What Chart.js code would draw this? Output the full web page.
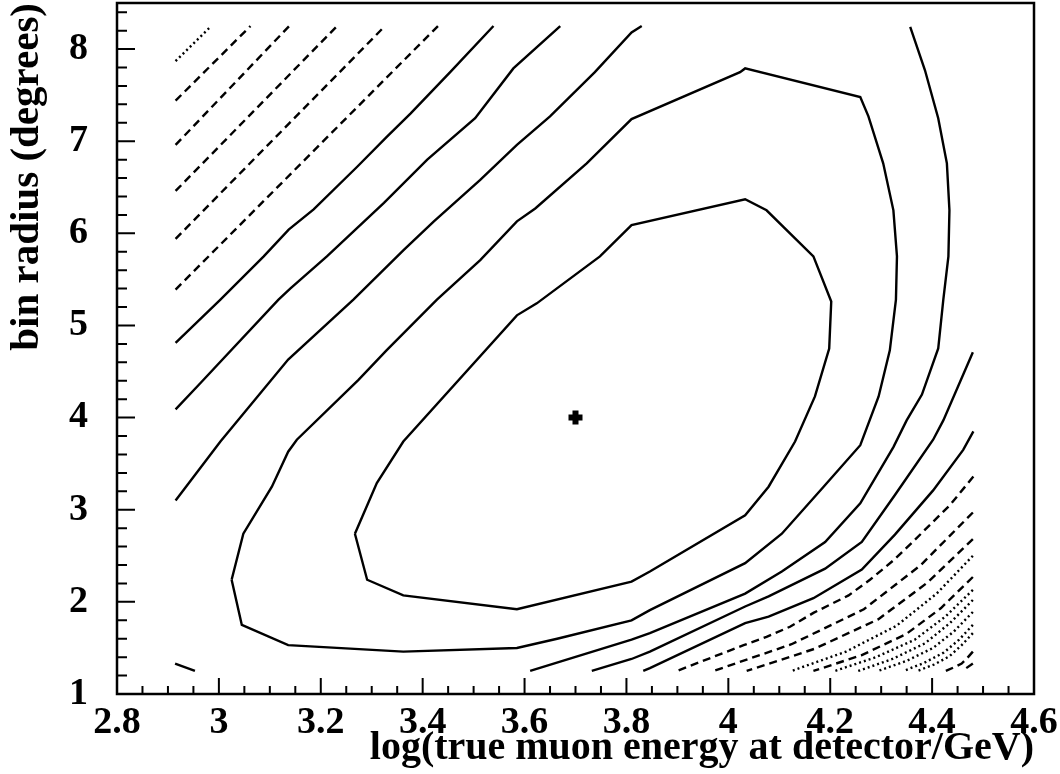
<!DOCTYPE html>
<html><head><meta charset="utf-8">
<script src="https://cdn.jsdelivr.net/npm/chart.js@4.4.1/dist/chart.umd.min.js"></script>
<style>html,body{margin:0;padding:0;background:#fff;}canvas{display:block;}</style>
</head><body>
<canvas id="c" width="1060" height="774"></canvas>
<script>
// ---- axis ticks ----
const xTickValues = [2.8, 3.0, 3.2, 3.4, 3.6, 3.8, 4.0, 4.2, 4.4, 4.6];
const xTickLabels = ['2.8', '3', '3.2', '3.4', '3.6', '3.8', '4', '4.2', '4.4', '4.6'];
const yTickValues = [1, 2, 3, 4, 5, 6, 7, 8];
const yTickLabels = ['1', '2', '3', '4', '5', '6', '7', '8'];

// ---- contour lines, upper-left family ----
const dotUL1 = [[2.915, 7.87], [2.985, 8.25]];
const dashUL1 = [[2.915, 7.44], [3.062, 8.25]];
const dashUL2 = [[2.915, 6.96], [3.138, 8.25]];
const dashUL3 = [[2.915, 6.46], [3.232, 8.25]];
const dashUL4 = [[2.915, 5.94], [3.326, 8.25]];
const dashUL5 = [[2.915, 5.39], [3.430, 8.25]];
const solidA = [[2.915, 4.81], [3.003, 5.28], [3.088, 5.75], [3.137, 6.04], [3.186, 6.26], [3.271, 6.72], [3.330, 7.05], [3.376, 7.30], [3.454, 7.75], [3.539, 8.25]];
const solidB = [[2.915, 4.09], [2.963, 4.37], [3.117, 5.28], [3.140, 5.40], [3.212, 5.75], [3.324, 6.33], [3.409, 6.80], [3.503, 7.25], [3.578, 7.79], [3.670, 8.25]];
const solidC = [[2.915, 3.10], [3.003, 3.74], [3.136, 4.63], [3.264, 5.28], [3.363, 5.82], [3.422, 6.13], [3.513, 6.58], [3.585, 6.96], [3.650, 7.27], [3.738, 7.75], [3.810, 8.18], [3.830, 8.25]];

// ---- closed contours around the minimum ----
const outerLoop = [[3.025, 2.24], [3.048, 2.74], [3.104, 3.25], [3.136, 3.63], [3.153, 3.76], [3.274, 4.41], [3.329, 4.73], [3.428, 5.28], [3.513, 5.71], [3.585, 6.13], [3.621, 6.27], [3.722, 6.76], [3.810, 7.24], [4.023, 7.75], [4.033, 7.79], [4.259, 7.48], [4.275, 7.27], [4.304, 6.76], [4.324, 6.25], [4.331, 5.75], [4.329, 5.28], [4.317, 4.73], [4.295, 4.23], [4.259, 3.70], [4.187, 3.25], [4.105, 2.74], [4.033, 2.42], [3.846, 1.91], [3.810, 1.80], [3.664, 1.60], [3.585, 1.50], [3.362, 1.46], [3.136, 1.53], [3.045, 1.75], [3.025, 2.24]];
const innerLoop = [[3.267, 2.74], [3.310, 3.29], [3.362, 3.74], [3.585, 5.11], [3.624, 5.24], [3.748, 5.75], [3.810, 6.09], [4.033, 6.37], [4.075, 6.25], [4.167, 5.75], [4.202, 5.26], [4.198, 4.75], [4.170, 4.23], [4.131, 3.74], [4.079, 3.25], [4.033, 2.94], [3.846, 2.33], [3.810, 2.22], [3.585, 1.92], [3.362, 2.07], [3.291, 2.24], [3.267, 2.74]];

// ---- lower-right family ----
const solidE = [[4.357, 8.24], [4.386, 7.77], [4.412, 7.25], [4.429, 6.76], [4.434, 6.25], [4.432, 5.75], [4.422, 5.28], [4.412, 4.75], [4.380, 4.25], [4.350, 3.97], [4.324, 3.68], [4.259, 3.07], [4.190, 2.65], [4.105, 2.33], [4.033, 2.09], [3.846, 1.66], [3.810, 1.59], [3.611, 1.25]];
const solidF = [[4.480, 4.71], [4.422, 3.97], [4.402, 3.76], [4.327, 3.16], [4.262, 2.65], [4.190, 2.36], [4.079, 2.06], [4.033, 1.95], [3.846, 1.46], [3.810, 1.38], [3.732, 1.25]];
const solidG = [[4.481, 3.85], [4.461, 3.65], [4.402, 3.21], [4.327, 2.73], [4.262, 2.35], [4.167, 2.04], [4.079, 1.84], [4.033, 1.77], [3.846, 1.28], [3.833, 1.25]];
const solidCorner = [[2.914, 1.33], [2.953, 1.25]];

const dashLR1 = [[4.481, 3.36], [4.435, 3.05], [4.402, 2.87], [4.360, 2.64], [4.324, 2.45], [4.278, 2.24], [4.236, 2.07], [4.167, 1.88], [4.121, 1.73], [4.075, 1.62], [4.030, 1.53], [3.899, 1.25]];
const dashLR2 = [[4.480, 2.97], [4.378, 2.40], [4.266, 1.92], [4.124, 1.54], [3.971, 1.25]];
const dashLR3 = [[4.480, 2.68], [4.391, 2.21], [4.294, 1.81], [4.169, 1.49], [4.036, 1.25]];
const dotLR4 = [[4.480, 2.50], [4.409, 2.09], [4.330, 1.74], [4.231, 1.46], [4.124, 1.25]];
const dashLR5 = [[4.480, 2.27], [4.417, 1.93], [4.349, 1.65], [4.261, 1.42], [4.167, 1.25]];
const dotLR6 = [[4.480, 2.13], [4.426, 1.84], [4.366, 1.59], [4.290, 1.40], [4.209, 1.25]];
const dotLR7 = [[4.480, 2.02], [4.435, 1.77], [4.386, 1.55], [4.322, 1.38], [4.255, 1.25]];
const dotLR8 = [[4.480, 1.89], [4.443, 1.68], [4.402, 1.50], [4.350, 1.36], [4.294, 1.25]];
const dotLR9 = [[4.480, 1.75], [4.453, 1.59], [4.423, 1.45], [4.385, 1.34], [4.344, 1.25]];
const dotLR10 = [[4.480, 1.66], [4.458, 1.53], [4.434, 1.41], [4.404, 1.32], [4.371, 1.25]];
const dashLR11 = [[4.480, 1.46], [4.469, 1.39], [4.458, 1.33], [4.443, 1.29], [4.427, 1.25]];
const dashLR12 = [[4.480, 1.33], [4.459, 1.25]];

// ---- best-fit point ----
const bestFit = [[3.7, 4.0]];

const SOLID = [], DASH = [8, 5], DOT = [2, 3];
function line(data, dash) {
  return { data, showLine: true, borderColor: '#000', borderWidth: 2.4, borderDash: dash,
           pointRadius: 0, tension: 0, fill: false, borderCapStyle: 'butt', borderJoinStyle: 'miter' };
}
const datasets = [
  line(dotUL1, DOT), line(dashUL1, DASH), line(dashUL2, DASH), line(dashUL3, DASH), line(dashUL4, DASH), line(dashUL5, DASH),
  line(solidA, SOLID), line(solidB, SOLID), line(solidC, SOLID),
  line(outerLoop, SOLID), line(innerLoop, SOLID),
  line(solidE, SOLID), line(solidF, SOLID), line(solidG, SOLID), line(solidCorner, SOLID),
  line(dashLR1, DASH), line(dashLR2, DASH), line(dashLR3, DASH), line(dotLR4, DOT), line(dashLR5, DASH),
  line(dotLR6, DOT), line(dotLR7, DOT), line(dotLR8, DOT), line(dotLR9, DOT), line(dotLR10, DOT),
  line(dashLR11, DASH), line(dashLR12, DASH),
  { data: bestFit, showLine: false, pointStyle: 'cross', pointRadius: 7, borderColor: '#000', borderWidth: 6, backgroundColor: '#000' },
  { data: bestFit, showLine: false, pointStyle: 'cross', pointRadius: 4, borderColor: '#fff', borderWidth: 1, backgroundColor: '#fff' }
];

const FONT = 'Liberation Serif, Times New Roman, serif';

const frameTicks = {
  id: 'frameTicks',
  afterDatasetsDraw(chart) {
    const { ctx, chartArea: a, scales: { x, y } } = chart;
    ctx.save();
    ctx.strokeStyle = '#000';
    ctx.lineWidth = 2;
    ctx.setLineDash([]);
    ctx.beginPath();
    const nx = Math.floor((x.max - x.min) / 0.05 + 1e-6);
    for (let i = 0; i <= nx; i++) {
      const px = x.getPixelForValue(x.min + i * 0.05);
      ctx.moveTo(px, a.bottom);
      ctx.lineTo(px, a.bottom - (i % 4 === 0 ? 16 : 8));
    }
    const ny = Math.floor((y.max - y.min) / 0.2 + 1e-6);
    for (let i = 0; i <= ny; i++) {
      const py = y.getPixelForValue(y.min + i * 0.2);
      ctx.moveTo(a.left, py);
      ctx.lineTo(a.left + (i % 5 === 0 ? 18 : 10), py);
    }
    ctx.stroke();
    ctx.lineWidth = 2.5;
    ctx.strokeRect(a.left, a.top, a.right - a.left, a.bottom - a.top);
    ctx.restore();
  }
};

new Chart(document.getElementById('c'), {
  type: 'scatter',
  data: { datasets },
  options: {
    responsive: false,
    animation: false,
    devicePixelRatio: 1,
    layout: { autoPadding: false, padding: { left: 0, right: 26, top: 3, bottom: 0 } },
    plugins: { legend: { display: false }, tooltip: { enabled: false } },
    scales: {
      x: {
        type: 'linear', min: 2.8, max: 4.6,
        afterBuildTicks: s => { s.ticks = xTickValues.map(v => ({ value: v })); },
        afterFit: s => { s.height = 80; s.paddingLeft = 0; s.paddingRight = 0; s.paddingTop = 0; s.paddingBottom = 0; },
        grid: { display: false, drawTicks: false },
        border: { display: false },
        ticks: { autoSkip: false, maxRotation: 0, padding: 6, color: '#000',
                 font: { family: FONT, size: 38, weight: 'bold' },
                 callback: (v, i) => xTickLabels[i] },
        title: { display: true, text: 'log(true muon energy at detector/GeV)', align: 'end', color: '#000',
                 font: { family: FONT, size: 40, weight: 'bold' }, padding: { top: 0, bottom: 1 } }
      },
      y: {
        type: 'linear', min: 1, max: 8.5,
        afterBuildTicks: s => { s.ticks = yTickValues.map(v => ({ value: v })); },
        afterFit: s => { s.width = 117; s.paddingTop = 0; s.paddingBottom = 0; s.paddingLeft = 0; s.paddingRight = 0; },
        grid: { display: false, drawTicks: false },
        border: { display: false },
        ticks: { autoSkip: false, padding: 29, color: '#000',
                 font: { family: FONT, size: 38, weight: 'bold' },
                 callback: (v, i) => yTickLabels[i] },
        title: { display: true, text: 'bin radius (degrees)', align: 'end', color: '#000',
                 font: { family: FONT, size: 41, weight: 'bold' }, padding: { top: 3, bottom: 0 } }
      }
    }
  },
  plugins: [frameTicks]
});
</script>
</body></html>
